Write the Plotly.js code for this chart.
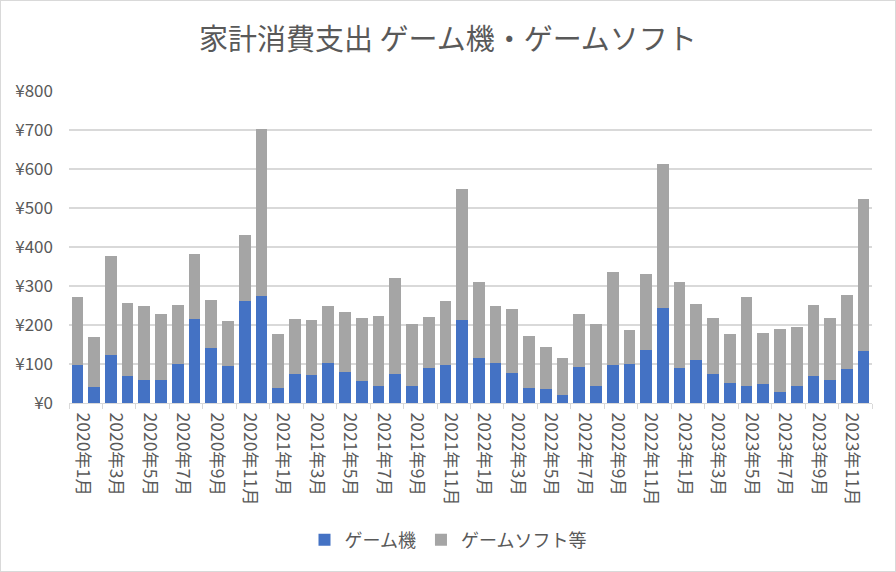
<!DOCTYPE html>
<html>
<head>
<meta charset="utf-8">
<script src="https://cdn.plot.ly/plotly-3.0.1.min.js"></script>
<style>
  html, body { margin: 0; padding: 0; background: #fff; }
  #wrap { position: relative; width: 896px; height: 572px; }
  #frame { position: absolute; left: 0; top: 0; width: 894px; height: 570px; border: 1px solid #d9d9d9; pointer-events: none; }
</style>
</head>
<body>
<div id="wrap"><div id="chart"></div><div id="frame"></div></div>
<script>
const months = [
  "2020年1月","2020年2月","2020年3月","2020年4月","2020年5月","2020年6月","2020年7月","2020年8月","2020年9月","2020年10月","2020年11月","2020年12月",
  "2021年1月","2021年2月","2021年3月","2021年4月","2021年5月","2021年6月","2021年7月","2021年8月","2021年9月","2021年10月","2021年11月","2021年12月",
  "2022年1月","2022年2月","2022年3月","2022年4月","2022年5月","2022年6月","2022年7月","2022年8月","2022年9月","2022年10月","2022年11月","2022年12月",
  "2023年1月","2023年2月","2023年3月","2023年4月","2023年5月","2023年6月","2023年7月","2023年8月","2023年9月","2023年10月","2023年11月","2023年12月"
];
const gameConsole = [
  98, 42, 124, 68, 60, 60, 101, 216, 142, 96, 262, 275,
  39, 75, 73, 103, 80, 57, 44, 75, 44, 91, 98, 214,
  116, 103, 78, 39, 37, 21, 93, 44, 98, 101, 137, 244,
  91, 109, 75, 52, 44, 50, 29, 44, 68, 60, 88, 134
];
const gameSoftware = [
  175, 126, 254, 189, 190, 169, 151, 167, 123, 113, 170, 427,
  139, 141, 141, 147, 154, 162, 180, 246, 159, 130, 164, 336,
  195, 147, 164, 134, 107, 95, 136, 159, 239, 87, 195, 370,
  220, 146, 144, 126, 229, 130, 162, 152, 184, 159, 190, 390
];
const seriesNames = ["ゲーム機", "ゲームソフト等"];
const titleText = "家計消費支出 ゲーム機・ゲームソフト";

const FONT = '"Noto Sans CJK JP", "Noto Sans", sans-serif';
const TXT = '#595959';

const traces = [
  { type: 'bar', name: seriesNames[0], x: months, y: gameConsole, marker: { color: '#4472C4' }, hovertemplate: '%{x}: ¥%{y}<extra></extra>' },
  { type: 'bar', name: seriesNames[1], x: months, y: gameSoftware, marker: { color: '#A5A5A5' }, hovertemplate: '%{x}: ¥%{y}<extra></extra>' }
];

const layout = {
  width: 896, height: 572,
  paper_bgcolor: '#fff', plot_bgcolor: '#fff',
  font: { family: FONT, color: TXT, size: 16 },
  barmode: 'stack', bargap: 0.3,
  margin: { l: 69, r: 24, t: 91, b: 169 },
  title: { text: titleText, font: { family: FONT, size: 29, color: TXT }, x: 0.5, xref: 'container', xanchor: 'center', y: 1 - 40/572, yref: 'container', yanchor: 'middle' },
  xaxis: {
    type: 'category', tickangle: 90, tickmode: 'linear', tick0: 0, dtick: 2,
    tickson: 'boundaries', ticks: 'outside', ticklen: 5, tickcolor: '#d9d9d9', tickwidth: 1,
    showline: true, linecolor: '#d9d9d9', linewidth: 1, showgrid: false,
    tickfont: { family: FONT, size: 17.5, color: TXT }, ticklabelshift: 5, ticklabelstandoff: 5
  },
  yaxis: {
    range: [0, 800], dtick: 100, tickprefix: '¥', showgrid: true, gridcolor: '#d9d9d9', gridwidth: 1.3,
    zeroline: false, showline: false, ticks: '', ticklabelstandoff: 15,
    tickfont: { family: FONT, size: 17, color: TXT }
  },
  showlegend: true,
  legend: { orientation: 'h', xref: 'container', yref: 'container', x: 0.5, xanchor: 'center', y: 1 - 540/572, yanchor: 'middle', font: { family: FONT, size: 18, color: TXT }, traceorder: 'normal' }
};

Plotly.newPlot('chart', traces, layout, { displayModeBar: false, staticPlot: true });
</script>
</body>
</html>
